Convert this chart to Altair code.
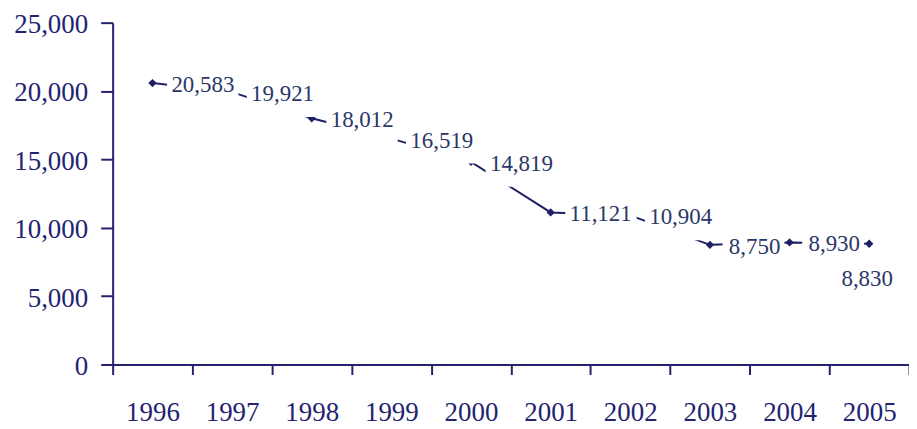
import altair as alt
import pandas as pd

years = ["1996", "1997", "1998", "1999", "2000", "2001", "2002", "2003", "2004", "2005"]
values = [20583, 19921, 18012, 16519, 14819, 11121, 10904, 8750, 8930, 8830]
y_ticks = [0, 5000, 10000, 15000, 20000, 25000]

FONT = "Liberation Serif"
NAVY = "#232370"
LINE = "#1f1f66"
TXT = "#2b3768"
LBL = 23

df = pd.DataFrame({"year": years, "value": values})
df["label"] = df["value"].map(lambda v: f"{v:,}")
# white label-box size (custom symbol is scaled by sqrt(size)/2)
def box_size(s):
    digits = sum(c.isdigit() for c in s)
    commas = s.count(",")
    tw = LBL * (0.5 * digits + 0.25 * commas)
    r = 23 + tw
    return (2 * r) ** 2
df["bsize"] = df["label"].map(box_size)
df["last"] = df["year"] == years[-1]

x_enc = alt.X(
    "year:N",
    sort=years,
    scale=alt.Scale(type="band", paddingInner=0, paddingOuter=0),
    axis=alt.Axis(
        title=None, tickBand="extent", labelAngle=0, domainColor=NAVY, domainWidth=2,
        tickColor=NAVY, tickWidth=2, tickSize=10, labelPadding=25,
        labelFont=FONT, labelFontSize=27, labelColor=NAVY,
    ),
)
y_enc = alt.Y(
    "value:Q",
    scale=alt.Scale(domain=[0, 25000]),
    axis=alt.Axis(
        title=None, values=y_ticks, format=",.0f", grid=False, domainColor=NAVY,
        domainWidth=2, tickColor=NAVY, tickWidth=2, tickSize=12, labelPadding=13,
        labelFont=FONT, labelFontSize=27, labelColor=NAVY, labelOffset=2,
    ),
)

base = alt.Chart(df).encode(x=x_enc, y=y_enc)

line = base.mark_line(color=LINE, strokeWidth=2)
pts = base.mark_point(shape="diamond", filled=True, size=70, color=LINE, opacity=1)

box_shape = "M0.17,-0.21 L1,-0.21 L1,0.29 L0.17,0.29 Z"
boxes = base.transform_filter("!datum.last").mark_point(
    shape=box_shape, filled=True, color="white", opacity=1, strokeWidth=0
).encode(size=alt.Size("bsize:Q", scale=None, legend=None))

labels = base.transform_filter("!datum.last").mark_text(
    align="left", baseline="middle", dx=19, dy=2, font=FONT, fontSize=LBL, color=TXT
).encode(text="label:N")

last_label = base.transform_filter("datum.last").mark_text(
    align="center", baseline="middle", dx=-2, dy=35, font=FONT, fontSize=LBL, color=TXT
).encode(text="label:N")

chart = (
    alt.layer(line, pts, boxes, labels, last_label)
    .properties(
        width=799, height=343,
        autosize=alt.AutoSizeParams(type="none"),
        padding={"left": 105, "top": 14, "right": 0, "bottom": 64},
        background="white",
    )
    .configure_view(stroke=None)
)

chart.save("out.html", embed_options={"renderer": "svg", "actions": False})
